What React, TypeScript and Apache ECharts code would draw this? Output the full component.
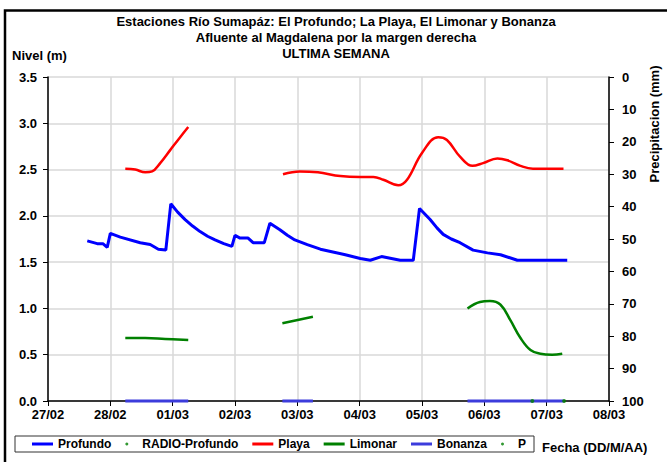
import React, { useEffect, useRef } from "react";
import * as echarts from "echarts";

const DATE_LABELS = ["27/02", "28/02", "01/03", "02/03", "03/03", "04/03", "05/03", "06/03", "07/03", "08/03"];

// x = days since 27/02 00:00
const PROF_DAY = [0.63, 0.79, 0.88, 0.95, 1.0, 1.16, 1.48, 1.64, 1.77, 1.89, 1.97, 2.08, 2.2, 2.32, 2.44, 2.56, 2.68, 2.82, 2.95, 3.0, 3.08, 3.21, 3.29, 3.47, 3.56, 3.72, 3.84, 3.96, 4.16, 4.37, 4.57, 4.77, 5.01, 5.17, 5.35, 5.65, 5.86, 5.96, 6.13, 6.24, 6.34, 6.47, 6.61, 6.82, 7.05, 7.26, 7.53, 8.33];
const PROF_LVL = [1.73, 1.7, 1.7, 1.66, 1.81, 1.77, 1.71, 1.69, 1.64, 1.63, 2.13, 2.04, 1.96, 1.89, 1.83, 1.78, 1.74, 1.7, 1.67, 1.79, 1.76, 1.76, 1.71, 1.71, 1.92, 1.85, 1.79, 1.74, 1.69, 1.64, 1.61, 1.58, 1.54, 1.52, 1.56, 1.52, 1.52, 2.08, 1.96, 1.87, 1.8, 1.75, 1.71, 1.63, 1.6, 1.58, 1.52, 1.52];

const PLAYA_DAY = [1.24, 1.4, 1.56, 1.67, 1.8, 1.96, 2.12, 2.25, 3.0, 3.77, 4.04, 4.33, 4.69, 5.01, 5.22, 5.38, 5.62, 5.76, 6.0, 6.26, 6.4, 6.61, 6.81, 6.98, 7.21, 7.37, 7.58, 7.78, 8.06, 8.27];
const PLAYA_LVL = [2.51, 2.5, 2.47, 2.48, 2.57, 2.71, 2.85, 2.96, null, 2.45, 2.48, 2.47, 2.43, 2.42, 2.42, 2.39, 2.33, 2.39, 2.68, 2.85, 2.82, 2.64, 2.54, 2.57, 2.62, 2.6, 2.54, 2.51, 2.51, 2.51];

const LIMONAR_DAY = [1.24, 1.56, 1.88, 2.25, 3.0, 3.76, 4.25, 5.5, 6.73, 6.93, 7.09, 7.26, 7.42, 7.58, 7.74, 7.9, 8.09, 8.25];
const LIMONAR_LVL = [0.68, 0.68, 0.67, 0.66, null, 0.84, 0.91, null, 1.0, 1.07, 1.08, 1.04, 0.87, 0.68, 0.55, 0.51, 0.5, 0.51];

const BONANZA_DAY = [1.24, 2.25, 3.0, 3.76, 4.25, 5.5, 6.73, 8.27];
const BONANZA_LVL = [0, 0, null, 0, 0, null, 0, 0];

const RADIO_DAY = [7.77, 8.28];
const RADIO_LVL = [0, 0];

const TITLE_LINES = [
  "Estaciones Río Sumapáz: El Profundo; La Playa, El Limonar y Bonanza",
  "Afluente al Magdalena por la margen derecha",
  "ULTIMA SEMANA",
];

const pairs = (xs: number[], ys: (number | null)[]) => xs.map((x, i) => [x, ys[i]]);

const FONT = "Liberation Sans, Arial, sans-serif";

export default function App() {
  const ref = useRef<HTMLDivElement>(null);
  useEffect(() => {
    const chart = echarts.init(ref.current!, null, { renderer: "svg" });
    const lbl = { fontFamily: FONT, fontWeight: "bold" as const, fontSize: 13, color: "#000" };
    chart.setOption({
      animation: false,
      backgroundColor: "#fff",
      grid: { left: 48, right: 58, top: 77, bottom: 61 },
      xAxis: {
        type: "value",
        min: 0,
        max: 9,
        interval: 1,
        axisLine: { lineStyle: { color: "#000", width: 1.5 } },
        axisTick: { show: true, length: 5, lineStyle: { color: "#000" } },
        axisLabel: { ...lbl, margin: 7, formatter: (v: number) => DATE_LABELS[Math.round(v)] },
        splitLine: { show: true, lineStyle: { color: "#d9d9d9", width: 1.5 } },
      },
      yAxis: [
        {
          type: "value",
          min: 0,
          max: 3.5,
          interval: 0.5,
          axisLine: { show: true, lineStyle: { color: "#000", width: 1.5 } },
          axisTick: { show: true, length: 5, lineStyle: { color: "#000" } },
          axisLabel: { ...lbl, margin: 11, formatter: (v: number) => v.toFixed(1) },
          splitLine: { show: true, lineStyle: { color: "#d9d9d9", width: 1.5 } },
        },
        {
          type: "value",
          position: "right",
          min: 0,
          max: 100,
          interval: 10,
          inverse: true,
          axisLine: { show: true, lineStyle: { color: "#000", width: 1.5 } },
          axisTick: { show: true, length: 5, lineStyle: { color: "#000" } },
          axisLabel: { ...lbl, margin: 13 },
          splitLine: { show: false },
        },
      ],
      legend: {
        left: 15,
        top: 436,
        padding: [2, 8, 2, 17],
        itemGap: 14,
        itemWidth: 21,
        itemHeight: 3,
        borderColor: "#333",
        borderWidth: 1,
        borderRadius: 0,
        textStyle: { fontFamily: FONT, fontWeight: "bold", fontSize: 12, color: "#000" },
        data: [
          { name: "Profundo", icon: "rect" },
          { name: "RADIO-Profundo", icon: "circle" },
          { name: "Playa", icon: "rect" },
          { name: "Limonar", icon: "rect" },
          { name: "Bonanza", icon: "rect" },
          { name: "P", icon: "circle" },
        ],
      },
      series: [
        {
          name: "Profundo",
          type: "line",
          data: pairs(PROF_DAY, PROF_LVL),
          showSymbol: false,
          lineStyle: { color: "#0000ff", width: 3 },
          itemStyle: { color: "#0000ff" },
        },
        {
          name: "RADIO-Profundo",
          type: "scatter",
          data: pairs(RADIO_DAY, RADIO_LVL),
          symbolSize: 4,
          clip: false,
          z: 5,
          itemStyle: { color: "#008000" },
        },
        {
          name: "Playa",
          type: "line",
          smooth: 0.4,
          connectNulls: false,
          data: pairs(PLAYA_DAY, PLAYA_LVL),
          showSymbol: false,
          lineStyle: { color: "#ff0000", width: 2.5 },
          itemStyle: { color: "#ff0000" },
        },
        {
          name: "Limonar",
          type: "line",
          smooth: 0.4,
          connectNulls: false,
          data: pairs(LIMONAR_DAY, LIMONAR_LVL),
          showSymbol: false,
          lineStyle: { color: "#008000", width: 2.5 },
          itemStyle: { color: "#008000" },
        },
        {
          name: "Bonanza",
          type: "line",
          connectNulls: false,
          clip: false,
          data: pairs(BONANZA_DAY, BONANZA_LVL),
          showSymbol: false,
          lineStyle: { color: "#3c3cdc", width: 3 },
          itemStyle: { color: "#3c3cdc" },
        },
        {
          name: "P",
          type: "scatter",
          data: [],
          symbolSize: 3,
          itemStyle: { color: "#008000" },
        },
      ],
      graphic: [
        {
          type: "rect",
          shape: { x: 5, y: 10.5, width: 700, height: 500 },
          style: { fill: "none", stroke: "#000", lineWidth: 2.5 },
          silent: true,
        },
        ...TITLE_LINES.map((t, i) => ({
          type: "text",
          x: 336,
          y: 21 + i * 16,
          style: {
            text: t,
            fontFamily: FONT,
            fontWeight: "bold",
            fontSize: 13,
            fill: "#000",
            textAlign: "center",
            textVerticalAlign: "middle",
          },
        })),
        {
          type: "text",
          x: 12,
          y: 55,
          style: { text: "Nivel (m)", ...lbl, fill: "#000", textVerticalAlign: "middle" },
        },
        {
          type: "text",
          x: 654,
          y: 124,
          rotation: Math.PI / 2,
          style: {
            text: "Precipitacion (mm)",
            ...lbl,
            fill: "#000",
            textAlign: "center",
            textVerticalAlign: "middle",
          },
        },
        {
          type: "text",
          x: 542,
          y: 447,
          style: { text: "Fecha (DD/M/AA)", ...lbl, fill: "#000", textVerticalAlign: "middle" },
        },
      ],
    });
    return () => chart.dispose();
  }, []);
  return <div ref={ref} style={{ position: "fixed", left: 0, top: 0, width: 667, height: 462 }} />;
}
